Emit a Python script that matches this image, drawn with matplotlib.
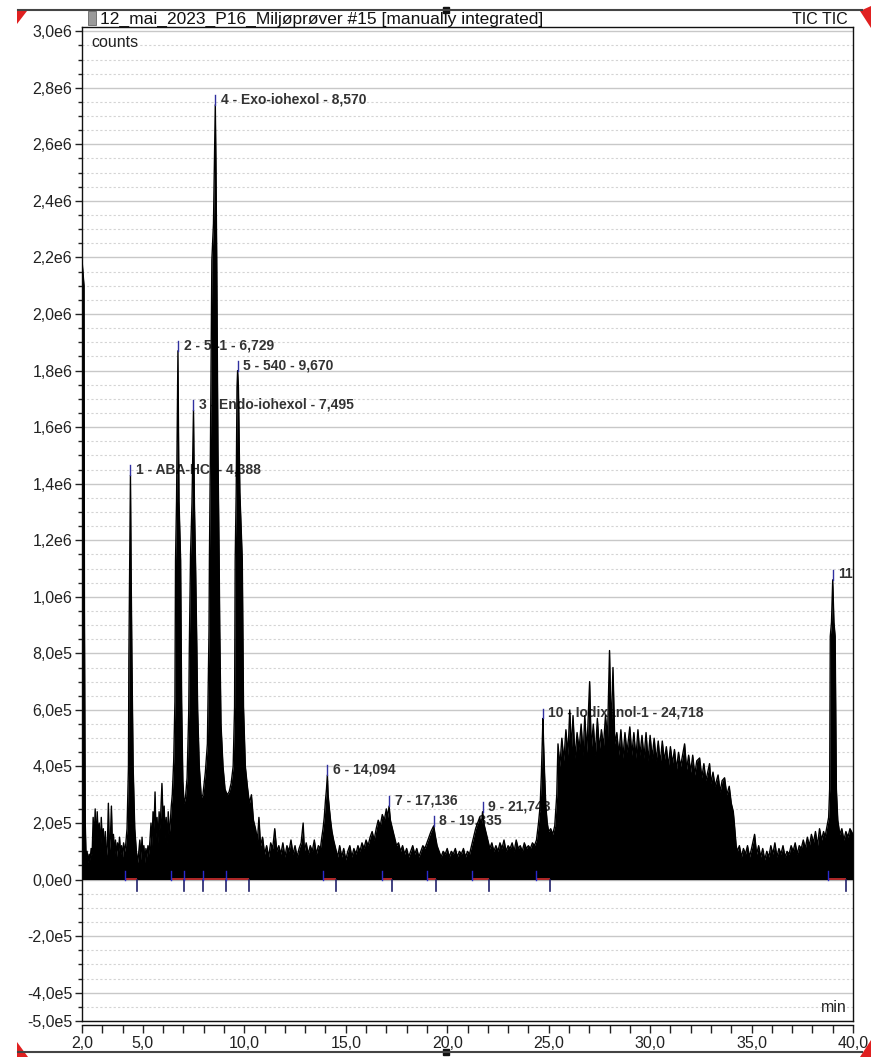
"""Chromeleon-style TIC chromatogram, 12_mai_2023_P16 sample #15."""

import matplotlib

matplotlib.use("Agg")
import matplotlib.pyplot as plt
import numpy as np
from matplotlib.lines import Line2D
from matplotlib.patches import Polygon, Rectangle
from matplotlib.ticker import FixedLocator, FuncFormatter, MultipleLocator

plt.rcParams["font.family"] = ["Liberation Sans", "DejaVu Sans"]

# trace vertices: (retention time [min], intensity [1e4 counts])
front = [
    (2.00, 219), (2.10, 210), (2.12, 96), (2.16, 20), (2.20, 8), (2.25, 10),
    (2.30, 6), (2.35, 9), (2.40, 7), (2.45, 11), (2.50, 9), (2.55, 22), (2.60, 14),
    (2.65, 25), (2.70, 12), (2.75, 24), (2.80, 15), (2.85, 20), (2.90, 10), (2.95, 22),
    (3.00, 13), (3.05, 18), (3.10, 9), (3.15, 17), (3.20, 8), (3.25, 12), (3.30, 27),
    (3.35, 10), (3.40, 15), (3.45, 26), (3.50, 11), (3.55, 16), (3.60, 9), (3.65, 14),
    (3.70, 8), (3.75, 13), (3.80, 10), (3.85, 15), (3.90, 9), (3.95, 12), (4.00, 8),
    (4.05, 13), (4.10, 10),
]
early_peaks = [
    (4.15, 12), (4.22, 18), (4.29, 40), (4.31, 78), (4.35, 110), (4.388, 143), (4.42, 110),
    (4.46, 78), (4.52, 40), (4.60, 18), (4.68, 10), (4.75, 6), (4.80, 10), (4.85, 14),
    (4.90, 7), (4.96, 15), (5.00, 9), (5.05, 12), (5.10, 6), (5.15, 11), (5.20, 8),
    (5.25, 12), (5.30, 9), (5.35, 14), (5.40, 20), (5.45, 12), (5.50, 24), (5.55, 18),
    (5.60, 31), (5.65, 15), (5.70, 22), (5.75, 13), (5.80, 24), (5.85, 18), (5.94, 34),
    (6.00, 20), (6.05, 26), (6.10, 15), (6.15, 22), (6.20, 13), (6.25, 24), (6.30, 16),
    (6.35, 20), (6.40, 26), (6.45, 30), (6.52, 42), (6.58, 63), (6.61, 113), (6.66, 134),
    (6.729, 187), (6.78, 134), (6.86, 113), (6.91, 63), (6.97, 35), (7.03, 27), (7.10, 29),
    (7.18, 36), (7.26, 59), (7.29, 82), (7.35, 115), (7.42, 133), (7.495, 166), (7.54, 133),
    (7.60, 110), (7.66, 82), (7.70, 60), (7.78, 40), (7.88, 29), (7.96, 30), (8.08, 38),
    (8.18, 48), (8.26, 88), (8.28, 113), (8.33, 152), (8.40, 219), (8.48, 232), (8.53, 254),
    (8.57, 274), (8.60, 254), (8.64, 219), (8.70, 152), (8.76, 113), (8.79, 88), (8.85, 55),
    (8.95, 40), (9.05, 32), (9.15, 30), (9.25, 31), (9.35, 34), (9.45, 40), (9.52, 61),
    (9.55, 113), (9.60, 137), (9.64, 174), (9.67, 180), (9.71, 174), (9.78, 137), (9.90, 113),
    (9.96, 61), (10.05, 40), (10.15, 33), (10.25, 27), (10.35, 30), (10.45, 21), (10.55, 18),
    (10.65, 14), (10.72, 22), (10.80, 12), (10.90, 15), (11.00, 9), (11.10, 12), (11.20, 8),
    (11.30, 13), (11.40, 11), (11.50, 18), (11.60, 10),
]
middle = [
    (11.70, 12), (11.80, 9), (11.90, 13), (12.00, 8), (12.10, 12), (12.20, 10), (12.30, 14),
    (12.40, 9), (12.50, 12), (12.60, 8), (12.70, 11), (12.80, 13), (12.90, 20), (12.96, 10),
    (13.05, 13), (13.15, 9), (13.25, 12), (13.35, 10), (13.45, 14), (13.55, 9), (13.65, 12),
    (13.75, 11), (13.82, 15), (13.88, 18), (13.94, 22), (14.00, 28), (14.05, 32), (14.094, 37),
    (14.13, 30), (14.18, 26), (14.25, 21), (14.32, 17), (14.40, 14), (14.50, 11), (14.60, 8),
    (14.70, 12), (14.80, 8), (14.90, 11), (15.00, 7), (15.10, 10), (15.20, 12), (15.30, 8),
    (15.40, 11), (15.50, 9), (15.60, 12), (15.70, 10), (15.80, 13), (15.90, 11), (16.00, 14),
    (16.10, 12), (16.20, 15), (16.30, 17), (16.40, 14), (16.50, 18), (16.60, 21), (16.70, 19),
    (16.80, 23), (16.90, 21), (17.00, 25), (17.06, 22), (17.136, 26), (17.20, 21), (17.30, 18),
    (17.40, 15), (17.50, 12), (17.60, 13), (17.70, 10), (17.80, 12), (17.90, 9), (18.00, 11),
    (18.10, 8), (18.20, 10), (18.30, 12), (18.40, 9), (18.50, 11), (18.60, 8), (18.70, 10),
    (18.80, 12), (18.90, 11), (19.00, 13), (19.10, 15), (19.20, 17), (19.335, 19), (19.40, 16),
    (19.50, 12), (19.60, 10), (19.70, 8), (19.80, 10), (19.90, 9), (20.00, 11), (20.10, 8),
    (20.20, 10), (20.30, 9), (20.40, 11), (20.50, 8), (20.60, 10), (20.70, 9), (20.80, 11),
    (20.90, 8), (21.00, 10), (21.10, 9), (21.20, 12), (21.30, 15), (21.40, 18), (21.50, 20),
    (21.60, 22), (21.68, 19), (21.743, 24), (21.80, 20), (21.90, 17), (22.00, 14), (22.10, 11),
    (22.20, 13), (22.30, 10), (22.40, 12), (22.50, 10), (22.60, 13), (22.70, 11), (22.80, 14),
    (22.90, 10), (23.00, 12), (23.10, 11), (23.20, 13), (23.30, 10), (23.40, 14), (23.50, 11),
    (23.60, 12), (23.70, 10), (23.80, 13), (23.90, 11), (24.00, 12), (24.10, 11), (24.20, 13),
    (24.30, 12), (24.40, 14),
]
hump = [
    (24.50, 20), (24.58, 26), (24.64, 37), (24.69, 50), (24.718, 57), (24.75, 48), (24.80, 37),
    (24.86, 26), (24.93, 20), (25.00, 17), (25.10, 18), (25.20, 16), (25.30, 19), (25.40, 30),
    (25.46, 48), (25.55, 40), (25.65, 50), (25.75, 42), (25.85, 53), (25.95, 44), (26.04, 60),
    (26.12, 46), (26.20, 58), (26.30, 43), (26.40, 52), (26.50, 46), (26.60, 55), (26.70, 44),
    (26.78, 58), (26.88, 45), (27.02, 70), (27.10, 46), (27.20, 55), (27.30, 44), (27.40, 57),
    (27.50, 46), (27.60, 53), (27.70, 47), (27.80, 58), (27.90, 50), (28.00, 81), (28.08, 52),
    (28.17, 75), (28.26, 48), (28.36, 52), (28.46, 44), (28.56, 53), (28.66, 43), (28.76, 52),
    (28.86, 45), (29.00, 54), (29.10, 44), (29.20, 52), (29.30, 43), (29.40, 53), (29.50, 44),
    (29.60, 51), (29.70, 43), (29.80, 52), (29.90, 42), (30.00, 51), (30.10, 43), (30.20, 50),
    (30.30, 42), (30.40, 49), (30.50, 41), (30.60, 49), (30.70, 42), (30.80, 47), (30.90, 40),
    (31.00, 47), (31.10, 41), (31.20, 46), (31.30, 39), (31.40, 45), (31.50, 40), (31.70, 48),
    (31.80, 39), (31.90, 44), (32.00, 38), (32.10, 44), (32.20, 37), (32.30, 42), (32.44, 43),
    (32.55, 36), (32.65, 41), (32.75, 35), (32.93, 41), (33.00, 34), (33.10, 38), (33.20, 33),
    (33.35, 37), (33.45, 31), (33.55, 35), (33.67, 36), (33.78, 30), (33.90, 33), (34.00, 27),
    (34.10, 24), (34.15, 20), (34.24, 12),
]
tail = [
    (34.30, 10), (34.40, 12), (34.50, 8), (34.60, 11), (34.70, 9), (34.80, 12), (34.90, 8),
    (35.00, 11), (35.15, 16), (35.25, 9), (35.35, 12), (35.45, 8), (35.55, 11), (35.65, 7),
    (35.75, 10), (35.85, 8), (35.95, 12), (36.05, 9), (36.15, 13), (36.25, 8), (36.35, 11),
    (36.45, 9), (36.55, 12), (36.65, 8), (36.75, 10), (36.85, 9), (36.95, 12), (37.05, 10),
    (37.15, 13), (37.25, 9), (37.35, 12), (37.45, 11), (37.55, 14), (37.65, 11), (37.75, 15),
    (37.85, 12), (37.95, 16), (38.05, 13), (38.15, 17), (38.25, 12), (38.35, 18), (38.45, 14),
    (38.55, 17), (38.62, 15), (38.72, 19), (38.80, 22), (38.85, 32), (38.88, 86), (38.94, 91),
    (39.00, 106), (39.06, 91), (39.12, 86), (39.18, 32), (39.25, 21), (39.35, 16), (39.45, 18),
    (39.55, 14), (39.65, 17), (39.75, 15), (39.85, 18), (40.00, 16),
]

# integrated peaks
peak_labels = [
    "1 - ABA-HCl - 4,388", "2 - 541 - 6,729", "3 - Endo-iohexol - 7,495",
    "4 - Exo-iohexol - 8,570", "5 - 540 - 9,670", "6 - 14,094", "7 - 17,136",
    "8 - 19,335", "9 - 21,743", "10 - Iodixanol-1 - 24,718", "11",
]
peak_rt = [4.388, 6.729, 7.495, 8.570, 9.670, 14.094, 17.136, 19.335, 21.743, 24.718, 39.00]
peak_top = [143, 187, 166, 274, 180, 37, 26, 19, 24, 57, 106]  # 1e4 counts
peak_start = [4.10, 6.40, 7.02, 7.96, 9.09, 13.86, 16.80, 19.00, 21.20, 24.40, 38.75]
peak_end = [4.71, 7.02, 7.96, 9.09, 10.23, 14.51, 17.27, 19.44, 22.05, 25.05, 39.64]

x_major = [2, 5, 10, 15, 20, 25, 30, 35, 40]

W, H = 871, 1057
fig = plt.figure(figsize=(W / 100, H / 100), dpi=100)
ax = fig.add_axes([82 / W, 1 - 1021 / H, 771 / W, (1021 - 27) / H])

trace = np.array(front + early_peaks + middle + hump + tail, dtype=float)
rt = trace[:, 0]
counts = trace[:, 1] * 1e4

ax.fill_between(rt, 0, counts, color="black", lw=0, zorder=3)
ax.plot(rt, counts, color="black", lw=1.0, zorder=3)

# integration baselines and delimiters
for t0, t1 in zip(peak_start, peak_end):
    ax.plot([t0, t1], [0.3e4, 0.3e4], color="#d03030", lw=1.2, zorder=4, solid_capstyle="butt")
    ax.plot([t0, t0], [0, 3e4], color="#2a2ad0", lw=1, zorder=4)
    ax.plot([t1, t1], [0, -3.9e4], color="#20206a", lw=1.2, zorder=4)

for label, t, top in zip(peak_labels, peak_rt, peak_top):
    ax.plot([t, t], [top * 1e4, top * 1e4 + 3.5e4], color="#3030a0", lw=1, zorder=4)
    ax.annotate(label, (t, top * 1e4), xytext=(4, 4), textcoords="offset points",
                fontsize=10, fontweight="bold", color="#333333", va="center", ha="left",
                zorder=2, annotation_clip=True, clip_on=True)

ax.set_xlim(2, 40)
ax.set_ylim(-5e5, 3.015e6)

ax.xaxis.set_major_locator(FixedLocator(x_major))
ax.xaxis.set_minor_locator(MultipleLocator(1))
ax.xaxis.set_major_formatter(FuncFormatter(lambda v, _: f"{v:.1f}".replace(".", ",")))

y_ticks = list(np.arange(-4e5, 3.0e6 + 1, 2e5)) + [-5e5]
ax.yaxis.set_major_locator(FixedLocator(y_ticks))
ax.yaxis.set_minor_locator(MultipleLocator(5e4))


def _sci_comma(v, _):
    if abs(v) < 1:
        return "0,0e0"
    e = int(np.floor(np.log10(abs(v)) + 1e-9))
    return f"{v / 10 ** e:.1f}e{e}".replace(".", ",")


ax.yaxis.set_major_formatter(FuncFormatter(_sci_comma))

ax.set_axisbelow(True)
ax.grid(True, which="major", axis="y", color="#c8c8c8", lw=1.0)
ax.grid(True, which="minor", axis="y", color="#d4d4d4", lw=0.8, ls=(0, (2, 2)))

ax.tick_params(axis="y", which="major", length=5, width=1, labelsize=11.5, colors="#222222", pad=2)
ax.tick_params(axis="y", which="minor", length=3, width=1, color="#222222")
ax.tick_params(axis="x", which="both", length=6, width=1, labelsize=11.5, colors="#222222", pad=2)

for side in ("top", "right", "left", "bottom"):
    ax.spines[side].set_color("#111111")
    ax.spines[side].set_linewidth(1.0)
ax.spines["bottom"].set_position(("outward", 3))
ax.plot([0, 1], [0, 0], transform=ax.transAxes, color="#111111", lw=1, clip_on=False, zorder=5)

ax.text(0.012, 0.984, "counts", transform=ax.transAxes, fontsize=11.5, va="center", ha="left",
        color="#222222")
ax.text(0.992, 0.014, "min", transform=ax.transAxes, fontsize=11.5, va="center", ha="right",
        color="#222222")

# window chrome around the plot
fig.text(100 / W, 1 - 19 / H, "12_mai_2023_P16_Miljøprøver #15 [manually integrated]",
         fontsize=12.5, va="center", ha="left", color="#111111")
fig.text(848 / W, 1 - 19 / H, "TIC TIC", fontsize=11.5, va="center", ha="right", color="#111111")
fig.patches.append(Rectangle((88 / W, 1 - 25 / H), 8 / W, 14 / H, transform=fig.transFigure,
                             facecolor="#9a9a9a", edgecolor="#666666", lw=0.6))
for y in (10, 1052):
    fig.lines.append(Line2D([18 / W, 862 / W], [1 - y / H, 1 - y / H], transform=fig.transFigure,
                            color="#444444", lw=1.5))
    fig.patches.append(Rectangle((443 / W, 1 - (y + 3) / H), 6 / W, 6 / H,
                                 transform=fig.transFigure, color="#111111"))
red_corners = [
    [(17, 11), (27, 11), (17, 24)],
    [(871, 6), (860, 11), (871, 28)],
    [(17, 1057), (17, 1042), (28, 1057)],
    [(871, 1057), (860, 1057), (871, 1040)],
]
for tri in red_corners:
    fig.patches.append(Polygon([(x / W, 1 - y / H) for x, y in tri], closed=True,
                               transform=fig.transFigure, color="#e02020", lw=0))

fig.savefig("out.png", dpi=100)
